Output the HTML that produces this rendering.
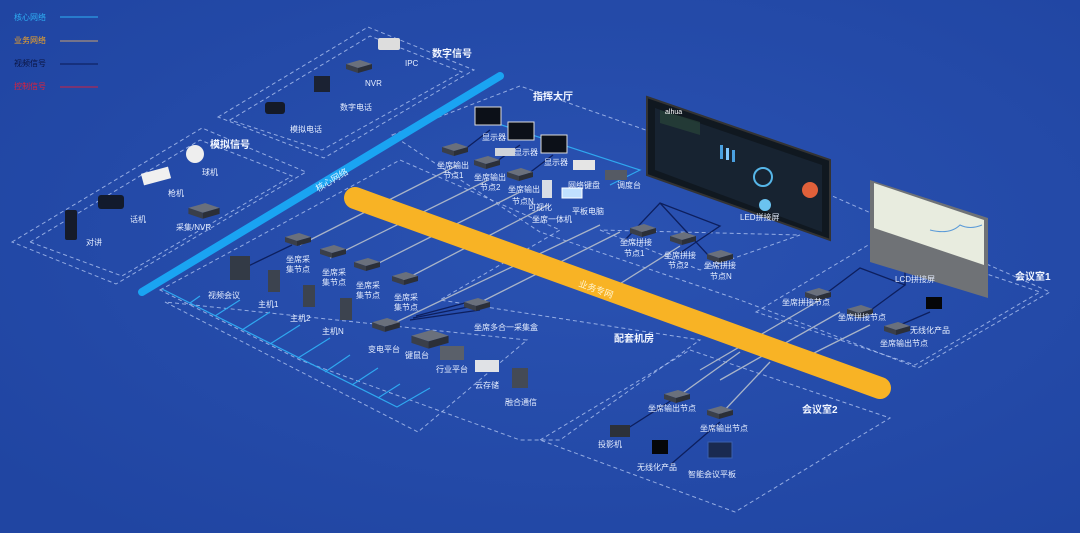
<!DOCTYPE html>
<html><head><meta charset="utf-8"><style>
html,body{margin:0;padding:0;background:#2347a2;}
svg{display:block}
text{font-family:"Liberation Sans","Noto Sans CJK SC",sans-serif;fill:#e6eeff;font-size:8px}
.b{font-size:10px;font-weight:bold;fill:#f2f6ff}
.d{fill:none;stroke:#b9ccf5;stroke-width:1;stroke-dasharray:4 3;opacity:.75}
.g{stroke:#a9b4c8;stroke-width:1.3;fill:none}
.n{stroke:#0d1f5e;stroke-width:1.3;fill:none}
.c{stroke:#2fa8f0;stroke-width:1.2;fill:none}
</style></head><body>
<svg width="1080" height="533" viewBox="0 0 1080 533" xmlns="http://www.w3.org/2000/svg">
<defs>
<radialGradient id="bg" cx="0.55" cy="0.45" r="0.7"><stop offset="0" stop-color="#2a52b2"/><stop offset="1" stop-color="#2045a2"/></radialGradient>
<symbol id="sw" viewBox="0 0 30 14"><polygon points="2,4 16,0 28,4 14,8" fill="#6a707c"/><polygon points="2,4 14,8 14,13 2,9" fill="#3a3f4a"/><polygon points="14,8 28,4 28,9 14,13" fill="#2b2f38"/></symbol>
</defs>
<rect width="1080" height="533" fill="url(#bg)"/>

<text x="14" y="20" style="fill:#2eb0f5">核心网络</text><line x1="60" y1="17" x2="98" y2="17" stroke="#2eb0f5"/>
<text x="14" y="43" style="fill:#f5a623">业务网络</text><line x1="60" y1="41" x2="98" y2="41" stroke="#c8a070"/>
<text x="14" y="66" style="fill:#0b1440">视频信号</text><line x1="60" y1="64" x2="98" y2="64" stroke="#0b1a55"/>
<text x="14" y="89" style="fill:#e0203a">控制信号</text><line x1="60" y1="87" x2="98" y2="87" stroke="#d02040"/>

<polygon class="d" points="218,117 368,27 474,70 324,158"/>
<polygon class="d" points="230,120 370,36 462,72 322,150"/>
<polygon class="d" points="12,242 202,128 306,172 116,284"/>
<polygon class="d" points="30,242 200,140 292,176 122,276"/>
<polygon class="d" points="392,135 520,86 640,128 830,195 1050,292 918,368 820,330 740,300 540,232"/>
<polygon class="d" points="160,290 400,160 560,230 440,300 700,340 560,440 520,440 300,360"/>
<polygon class="d" points="165,302 418,432 527,340"/>
<polygon class="d" points="540,440 690,350 890,418 735,512"/>
<polygon class="d" points="756,312 880,238 1040,292 915,365"/>
<polygon class="d" points="600,230 700,270 800,235"/>

<line x1="142" y1="292" x2="500" y2="76" stroke="#1aa4f2" stroke-width="8" stroke-linecap="round"/>
<text transform="translate(318,192) rotate(-31)" style="fill:#dff3ff;font-size:9px">核心网络</text>

<g class="g">
<line x1="456" y1="166" x2="300" y2="245"/><line x1="488" y1="180" x2="330" y2="258"/>
<line x1="520" y1="192" x2="365" y2="270"/><line x1="548" y1="205" x2="400" y2="282"/>
<line x1="600" y1="225" x2="390" y2="325"/><line x1="620" y1="232" x2="475" y2="305"/>
<line x1="680" y1="246" x2="610" y2="290"/>
<line x1="820" y1="300" x2="700" y2="370"/><line x1="840" y1="312" x2="720" y2="380"/>
<line x1="870" y1="325" x2="800" y2="360"/>
<line x1="740" y1="352" x2="680" y2="395"/><line x1="770" y1="362" x2="720" y2="415"/>
</g>
<g class="n">
<polyline points="625,240 660,203 720,226 680,253"/><line x1="660" y1="203" x2="720" y2="268"/>
<polyline points="820,298 860,268 905,285 860,318"/><line x1="905" y1="285" x2="905" y2="270"/>
<line x1="900" y1="325" x2="930" y2="312"/>
<line x1="460" y1="153" x2="490" y2="130"/><line x1="490" y1="166" x2="520" y2="145"/>
<line x1="520" y1="180" x2="553" y2="155"/>
<line x1="240" y1="270" x2="292" y2="245"/><line x1="410" y1="320" x2="480" y2="310"/>
<line x1="413" y1="318" x2="478" y2="305"/><line x1="416" y1="316" x2="476" y2="300"/>
<line x1="625" y1="430" x2="672" y2="400"/><line x1="670" y1="465" x2="720" y2="422"/>
</g>
<g class="c">
<polyline points="162,289 397,407 430,388"/>
<line x1="190" y1="303" x2="200" y2="296"/><line x1="215" y1="316" x2="240" y2="300"/>
<line x1="242" y1="330" x2="270" y2="312"/><line x1="270" y1="344" x2="300" y2="325"/>
<line x1="298" y1="358" x2="330" y2="338"/><line x1="325" y1="372" x2="350" y2="355"/>
<line x1="352" y1="385" x2="378" y2="368"/><line x1="378" y1="398" x2="400" y2="384"/>
<polyline points="480,118 640,170 610,185"/>
</g>

<line x1="355" y1="198" x2="880" y2="388" stroke="#f8b325" stroke-width="22" stroke-linecap="round"/>
<text transform="translate(578,286) rotate(20)" style="fill:#fff5d0;font-size:9px">业务专网</text>

<polygon points="647,97 830,160 830,240 647,175" fill="#101820" stroke="#333" stroke-width="2"/>
<polygon points="655,108 822,165 822,232 655,170" fill="#172331"/>
<circle cx="763" cy="177" r="9" fill="none" stroke="#56b6e8" stroke-width="2"/>
<circle cx="810" cy="190" r="8" fill="#e0603a"/><circle cx="765" cy="205" r="6" fill="#6bc3f0"/>
<rect x="720" y="145" width="3" height="14" fill="#4aa0e0"/><rect x="726" y="148" width="3" height="12" fill="#80c8ff"/><rect x="732" y="150" width="3" height="12" fill="#4aa0e0"/>
<polygon points="660,110 700,122 700,135 660,123" fill="#2c4a3a" opacity=".6"/>
<text x="665" y="114" style="fill:#fff;font-size:7px">alhua</text>
<text x="740" y="220">LED拼接屏</text>

<polygon points="870,180 988,218 988,298 870,262" fill="#6f7276"/>
<polygon points="874,183 984,220 984,265 874,228" fill="#e8ecdf"/>
<path d="M930,230 q20,5 30,-5 q10,5 22,0" stroke="#5a9ad8" fill="none"/>
<text x="895" y="282">LCD拼接屏</text>
<text x="1015" y="280" class="b">会议室1</text>

<text x="432" y="57" class="b">数字信号</text>
<text x="210" y="148" class="b">模拟信号</text>
<text x="533" y="100" class="b">指挥大厅</text>
<text x="614" y="342" class="b">配套机房</text>
<text x="802" y="413" class="b">会议室2</text>

<rect x="378" y="38" width="22" height="12" fill="#ddd" rx="2"/><text x="405" y="66">IPC</text>
<use href="#sw" x="344" y="60" width="30" height="14"/><text x="365" y="86">NVR</text>
<rect x="314" y="76" width="16" height="16" fill="#1b2233"/><text x="340" y="110">数字电话</text>
<rect x="265" y="102" width="20" height="12" fill="#141a28" rx="3"/><text x="290" y="132">模拟电话</text>
<circle cx="195" cy="154" r="9" fill="#eee"/><text x="202" y="175">球机</text>
<rect x="142" y="170" width="28" height="12" fill="#f0f0f0" transform="rotate(-15 156 176)"/><text x="168" y="196">枪机</text>
<rect x="98" y="195" width="26" height="14" fill="#121a2c" rx="3"/><text x="130" y="222">话机</text>
<use href="#sw" x="186" y="203" width="36" height="17"/><text x="176" y="230">采集/NVR</text>
<rect x="65" y="210" width="12" height="30" fill="#151b2a" rx="2"/><text x="86" y="245">对讲</text>

<rect x="475" y="107" width="26" height="18" fill="#0c1018" stroke="#ddd"/><text x="482" y="140">显示器</text>
<rect x="508" y="122" width="26" height="18" fill="#0c1018" stroke="#ddd"/><text x="514" y="155">显示器</text>
<rect x="541" y="135" width="26" height="18" fill="#0c1018" stroke="#ddd"/><text x="544" y="165">显示器</text>
<rect x="495" y="148" width="20" height="8" fill="#d0d4da"/>
<rect x="573" y="160" width="22" height="10" fill="#e5e5e5"/><text x="568" y="188">网络键盘</text>
<rect x="605" y="170" width="22" height="10" fill="#555a64"/><text x="617" y="188">调度台</text>
<rect x="542" y="180" width="10" height="18" fill="#d8dde5"/><text x="528" y="210">可视化</text><text x="532" y="222">坐席一体机</text>
<rect x="562" y="188" width="20" height="10" fill="#c0e0ff" stroke="#fff"/><text x="572" y="214">平板电脑</text>
<use href="#sw" x="440" y="143" width="30" height="14"/><text x="437" y="168">坐席输出</text><text x="443" y="178">节点1</text>
<use href="#sw" x="472" y="156" width="30" height="14"/><text x="474" y="180">坐席输出</text><text x="480" y="190">节点2</text>
<use href="#sw" x="505" y="168" width="30" height="14"/><text x="508" y="192">坐席输出</text><text x="512" y="204">节点N</text>
<use href="#sw" x="628" y="224" width="30" height="14"/><text x="620" y="245">坐席拼接</text><text x="624" y="256">节点1</text>
<use href="#sw" x="668" y="232" width="30" height="14"/><text x="664" y="258">坐席拼接</text><text x="668" y="268">节点2</text>
<use href="#sw" x="705" y="250" width="30" height="14"/><text x="704" y="268">坐席拼接</text><text x="710" y="279">节点N</text>

<use href="#sw" x="803" y="288" width="30" height="14"/><text x="782" y="305">坐席拼接节点</text>
<use href="#sw" x="845" y="305" width="30" height="14"/><text x="838" y="320">坐席拼接节点</text>
<use href="#sw" x="882" y="322" width="30" height="14"/><text x="880" y="346">坐席输出节点</text>
<rect x="926" y="297" width="16" height="12" fill="#050608"/><text x="910" y="333">无线化产品</text>

<rect x="230" y="256" width="20" height="24" fill="#333a46"/><text x="208" y="298">视频会议</text>
<rect x="268" y="270" width="12" height="22" fill="#3c434f"/><text x="258" y="307">主机1</text>
<rect x="303" y="285" width="12" height="22" fill="#3c434f"/><text x="290" y="321">主机2</text>
<rect x="340" y="298" width="12" height="22" fill="#3c434f"/><text x="322" y="334">主机N</text>
<use href="#sw" x="283" y="233" width="30" height="14"/><text x="286" y="262">坐席采</text><text x="286" y="272">集节点</text>
<use href="#sw" x="318" y="245" width="30" height="14"/><text x="322" y="275">坐席采</text><text x="322" y="285">集节点</text>
<use href="#sw" x="352" y="258" width="30" height="14"/><text x="356" y="288">坐席采</text><text x="356" y="298">集节点</text>
<use href="#sw" x="390" y="272" width="30" height="14"/><text x="394" y="300">坐席采</text><text x="394" y="310">集节点</text>
<use href="#sw" x="462" y="298" width="30" height="14"/><text x="474" y="330">坐席多合一采集盒</text>
<use href="#sw" x="370" y="318" width="32" height="15"/><text x="368" y="352">变电平台</text>
<use href="#sw" x="405" y="330" width="50" height="20"/><text x="405" y="358">键鼠台</text>
<rect x="440" y="346" width="24" height="14" fill="#5a606a"/><text x="436" y="372">行业平台</text>
<rect x="475" y="360" width="24" height="12" fill="#e0e2e6"/><text x="475" y="388">云存储</text>
<rect x="512" y="368" width="16" height="20" fill="#444a55"/><text x="505" y="405">融合通信</text>

<use href="#sw" x="662" y="390" width="30" height="14"/><text x="648" y="411">坐席输出节点</text>
<use href="#sw" x="705" y="406" width="30" height="14"/><text x="700" y="431">坐席输出节点</text>
<rect x="610" y="425" width="20" height="12" fill="#2c313a"/><text x="598" y="447">投影机</text>
<rect x="652" y="440" width="16" height="14" fill="#050608"/><text x="637" y="470">无线化产品</text>
<rect x="708" y="442" width="24" height="16" fill="#1a2a50" stroke="#3a60b0"/><text x="688" y="477">智能会议平板</text>
</svg>
</body></html>
